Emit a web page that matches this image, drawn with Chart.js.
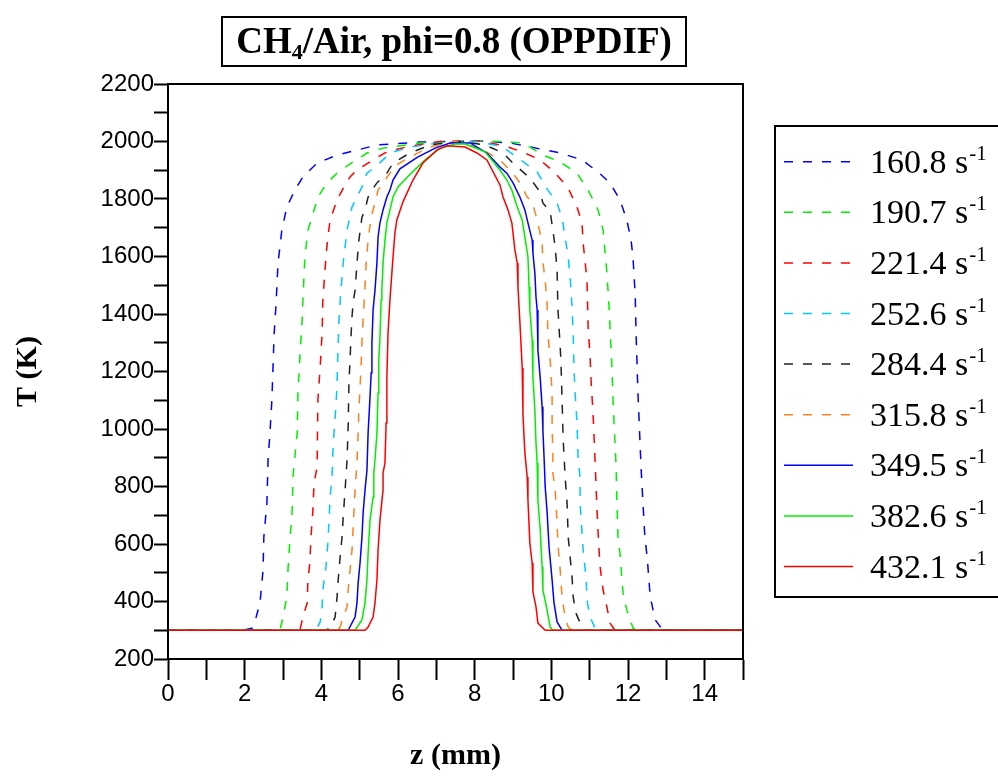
<!DOCTYPE html>
<html>
<head>
<meta charset="utf-8">
<script src="https://cdn.jsdelivr.net/npm/chart.js@4.4.1/dist/chart.umd.min.js"></script>
<style>
  html, body { margin: 0; padding: 0; background: #fff; }
  canvas { display: block; }
</style>
</head>
<body>
<canvas id="chart" width="998" height="776"></canvas>
<script>
/* Temperature profiles, CH4/Air counterflow flames — [z (mm), T (K)] */

const STRAIN_LABELS = ['160.8', '190.7', '221.4', '252.6', '284.4', '315.8', '349.5', '382.6', '432.1'];

const T_160 = [[0,300],[1.96,300],[2.19,307],[2.30,346],[2.40,395],[2.48,510],[2.50,624],[2.58,743],[2.61,892],[2.66,986],[2.71,1101],[2.77,1334],[2.82,1438],[2.87,1577],[2.97,1692],[3.10,1772],[3.31,1831],[3.52,1877],[3.89,1925],[4.41,1953],[4.93,1970],[5.45,1988],[6.57,1998],[8.14,2002],[8.92,1995],[10.23,1960],[10.80,1936],[11.22,1894],[11.53,1856],[11.79,1797],[11.97,1727],[12.08,1657],[12.13,1598],[12.19,1459],[12.21,1334],[12.26,1125],[12.34,868],[12.39,743],[12.44,624],[12.50,555],[12.58,416],[12.71,336],[12.89,304],[13.02,300],[15,300]];

const T_190 = [[0,300],[2.92,300],[3.00,346],[3.10,416],[3.13,510],[3.18,614],[3.24,718],[3.26,833],[3.37,986],[3.39,1125],[3.44,1250],[3.50,1379],[3.52,1449],[3.57,1598],[3.65,1692],[3.76,1737],[3.91,1807],[4.15,1856],[4.44,1894],[4.83,1929],[5.19,1960],[5.61,1977],[6.57,1995],[7.88,2001],[8.66,2000],[9.26,1995],[9.78,1953],[10.23,1929],[10.67,1890],[10.96,1831],[11.22,1762],[11.35,1692],[11.45,1543],[11.51,1414],[11.58,1216],[11.61,1101],[11.69,868],[11.71,743],[11.74,624],[11.79,569],[11.87,430],[11.97,370],[12.13,308],[12.21,300],[15,300]];

const T_221 = [[0,300],[3.44,300],[3.52,346],[3.63,395],[3.65,475],[3.70,534],[3.73,624],[3.78,718],[3.81,812],[3.89,868],[3.91,1101],[3.97,1216],[4.02,1334],[4.04,1449],[4.12,1598],[4.17,1668],[4.23,1727],[4.41,1797],[4.59,1842],[4.75,1877],[4.93,1901],[5.35,1936],[5.71,1964],[6.31,1984],[7.10,2000],[8.14,2002],[8.79,1984],[9.24,1964],[9.71,1936],[10.10,1890],[10.44,1838],[10.67,1772],[10.80,1717],[10.83,1647],[10.93,1518],[10.96,1355],[11.01,1254],[11.04,1160],[11.09,1049],[11.14,892],[11.19,725],[11.22,638],[11.27,523],[11.35,440],[11.45,381],[11.53,325],[11.66,300],[15,300]];

const T_252 = [[0,300],[3.86,300],[3.97,329],[4.02,381],[4.04,440],[4.12,520],[4.17,603],[4.23,763],[4.28,833],[4.30,917],[4.33,986],[4.38,1077],[4.41,1160],[4.44,1299],[4.46,1379],[4.51,1483],[4.57,1577],[4.67,1692],[4.80,1772],[4.93,1807],[5.06,1842],[5.19,1890],[5.40,1911],[5.61,1936],[5.79,1960],[6.31,1981],[7.10,1995],[8.01,2000],[8.53,1988],[8.84,1971],[9.63,1894],[9.91,1831],[10.15,1786],[10.28,1734],[10.36,1668],[10.44,1598],[10.49,1529],[10.54,1424],[10.57,1334],[10.59,1216],[10.62,1125],[10.67,1021],[10.70,892],[10.75,833],[10.75,743],[10.83,579],[10.91,475],[10.93,405],[11.01,346],[11.14,308],[11.22,300],[15,300]];

const T_284 = [[0,300],[4.12,300],[4.23,308],[4.36,346],[4.41,416],[4.44,475],[4.49,555],[4.54,624],[4.57,694],[4.62,788],[4.67,892],[4.70,1007],[4.72,1160],[4.75,1240],[4.77,1310],[4.80,1390],[4.83,1438],[4.88,1483],[4.93,1577],[4.98,1657],[5.06,1737],[5.14,1762],[5.22,1807],[5.32,1831],[5.45,1856],[5.71,1890],[5.87,1925],[6.31,1960],[6.84,1988],[7.62,2000],[8.27,1988],[8.74,1960],[9.00,1925],[9.44,1873],[9.71,1824],[9.78,1786],[9.97,1755],[10.04,1692],[10.10,1633],[10.15,1553],[10.17,1424],[10.20,1355],[10.25,1240],[10.28,1101],[10.31,962],[10.36,833],[10.41,743],[10.44,624],[10.49,555],[10.54,485],[10.57,416],[10.64,360],[10.80,311],[10.91,300],[15,300]];

const T_315 = [[0,300],[4.43,300],[4.49,311],[4.57,346],[4.67,381],[4.70,440],[4.75,510],[4.80,579],[4.83,659],[4.88,788],[4.93,882],[4.96,986],[4.98,1066],[5.01,1146],[5.04,1230],[5.06,1310],[5.09,1379],[5.11,1424],[5.17,1577],[5.22,1657],[5.30,1737],[5.40,1786],[5.48,1831],[5.61,1856],[5.79,1890],[5.87,1911],[6.31,1946],[6.84,1981],[7.49,2000],[8.14,1977],[8.66,1936],[8.84,1911],[9.00,1890],[9.18,1856],[9.37,1807],[9.50,1790],[9.63,1727],[9.76,1650],[9.78,1581],[9.84,1518],[9.89,1431],[9.91,1334],[9.97,1240],[10.02,1125],[10.02,1007],[10.04,917],[10.04,847],[10.10,788],[10.15,673],[10.17,603],[10.23,510],[10.28,416],[10.36,346],[10.44,311],[10.54,300],[15,300]];

const T_349 = [[0,300],[4.70,300],[4.88,346],[4.93,395],[4.96,464],[5.01,534],[5.06,624],[5.09,708],[5.14,788],[5.19,857],[5.22,986],[5.27,1111],[5.30,1195],[5.32,1299],[5.35,1414],[5.40,1483],[5.45,1577],[5.48,1668],[5.53,1717],[5.61,1762],[5.71,1807],[5.79,1831],[5.87,1866],[6.05,1905],[6.50,1945],[6.97,1977],[7.36,1995],[7.88,1995],[8.32,1960],[8.66,1911],[8.84,1890],[9.00,1856],[9.18,1807],[9.31,1762],[9.39,1717],[9.50,1657],[9.52,1612],[9.57,1543],[9.60,1459],[9.63,1414],[9.65,1275],[9.71,1177],[9.76,1077],[9.78,997],[9.81,903],[9.84,798],[9.89,711],[9.94,590],[10.02,475],[10.07,395],[10.15,329],[10.28,300],[15,300]];

const T_382 = [[0,300],[4.88,300],[5.06,336],[5.14,395],[5.19,475],[5.22,569],[5.27,683],[5.35,763],[5.37,847],[5.40,892],[5.45,986],[5.48,1125],[5.50,1240],[5.53,1320],[5.56,1449],[5.58,1483],[5.61,1577],[5.66,1657],[5.71,1717],[5.79,1762],[5.87,1807],[6.00,1842],[6.31,1885],[6.71,1936],[7.10,1977],[7.49,1991],[7.75,1991],[8.27,1964],[8.66,1901],[8.84,1866],[8.97,1831],[9.11,1772],[9.24,1727],[9.31,1668],[9.39,1598],[9.42,1494],[9.44,1414],[9.50,1310],[9.52,1181],[9.57,1066],[9.60,951],[9.63,882],[9.65,753],[9.71,649],[9.76,520],[9.78,440],[9.89,370],[9.97,311],[10.04,300],[15,300]];

const T_432 = [[0,300],[5.14,300],[5.22,311],[5.35,346],[5.40,395],[5.45,475],[5.48,579],[5.53,683],[5.61,788],[5.61,847],[5.66,882],[5.69,1021],[5.71,1181],[5.74,1334],[5.79,1449],[5.87,1598],[5.92,1682],[5.97,1727],[6.13,1790],[6.39,1866],[6.65,1925],[7.02,1971],[7.28,1985],[7.75,1981],[8.06,1960],[8.32,1936],[8.66,1849],[8.74,1807],[8.87,1762],[8.97,1717],[9.00,1682],[9.05,1623],[9.11,1577],[9.13,1494],[9.18,1372],[9.24,1212],[9.26,1049],[9.31,917],[9.37,833],[9.39,753],[9.44,603],[9.50,534],[9.52,433],[9.60,381],[9.65,325],[9.84,300],[15,300]];

const SERIES = [T_160, T_190, T_221, T_252, T_284, T_315, T_349, T_382, T_432];

const X_TICKS_MAJOR = 2;
const Y_TICKS_MAJOR = 200;

const COLORS = ['#0000ff', '#00ee00', '#ff0000', '#00c8ff', '#222222', '#ff8020', '#0000ff', '#00ee00', '#ff0000'];
const DASHED = [true, true, true, true, true, true, false, false, false];

const SERIF = '"Liberation Serif", "Times New Roman", serif';
const SANS = '"Liberation Sans", Arial, sans-serif';

const frameBoxes = {
  id: 'frameBoxes',
  afterDraw(chart) {
    const { ctx, chartArea: a } = chart;
    ctx.save();
    ctx.strokeStyle = '#000';
    ctx.lineWidth = 2;
    ctx.strokeRect(a.left, a.top, a.right - a.left, a.bottom - a.top);

    // title box
    ctx.strokeRect(222, 17, 464, 49);
    ctx.fillStyle = '#000';
    ctx.textBaseline = 'alphabetic';
    const big = 'bold 37px ' + SERIF, sub = 'bold 22px ' + SERIF;
    ctx.font = big;
    const p1 = 'CH', p3 = '/Air, phi=0.8 (OPPDIF)';
    const w1 = ctx.measureText(p1).width, w3 = ctx.measureText(p3).width;
    ctx.font = sub;
    const w2 = ctx.measureText('4').width;
    let x = 454 - (w1 + w2 + w3) / 2;
    ctx.font = big; ctx.fillText(p1, x, 53); x += w1;
    ctx.font = sub; ctx.fillText('4', x, 59); x += w2;
    ctx.font = big; ctx.fillText(p3, x, 53);

    // legend box
    ctx.strokeRect(775, 126, 240, 471);
    STRAIN_LABELS.forEach((lab, i) => {
      const y = 161.7 + i * 50.6;
      ctx.strokeStyle = COLORS[i];
      ctx.lineWidth = 1.5;
      ctx.setLineDash(DASHED[i] ? [9, 10] : []);
      ctx.beginPath(); ctx.moveTo(784, y); ctx.lineTo(853, y); ctx.stroke();
      ctx.setLineDash([]);
      ctx.fillStyle = '#000';
      ctx.font = '34px ' + SERIF;
      const t = lab + ' s';
      ctx.fillText(t, 870, y + 11);
      const tw = ctx.measureText(t).width;
      ctx.font = '21px ' + SERIF;
      ctx.fillText('-1', 870 + tw + 1, y - 2);
    });
    ctx.restore();
  }
};

new Chart(document.getElementById('chart'), {
  type: 'line',
  data: {
    datasets: SERIES.map((pts, i) => ({
      label: STRAIN_LABELS[i] + ' s-1',
      data: pts.map(p => ({ x: p[0], y: p[1] })),
      borderColor: COLORS[i],
      borderWidth: 1.5,
      borderDash: DASHED[i] ? [9, 10] : [],
      pointRadius: 0,
      tension: 0,
      fill: false,
      order: SERIES.length - 1 - i,
    })),
  },
  options: {
    responsive: false,
    animation: false,
    events: [],
    layout: { padding: { left: 0, right: 255, top: 84, bottom: 0 } },
    plugins: { legend: { display: false }, tooltip: { enabled: false } },
    scales: {
      x: {
        type: 'linear',
        min: 0, max: 15,
        afterFit: s => { s.height = 117; },
        border: { display: true, color: '#000', width: 2 },
        grid: { drawOnChartArea: false, drawTicks: true, tickLength: 21, tickWidth: 2, tickColor: '#000' },
        ticks: {
          stepSize: 1, autoSkip: false, maxRotation: 0, padding: 0,
          color: '#000', font: { size: 24, family: SANS },
          callback: v => (v % X_TICKS_MAJOR === 0 && v < 15 ? String(v) : ''),
        },
        title: { display: true, text: 'z (mm)', color: '#000', font: { size: 30, weight: 'bold', family: SERIF }, padding: { top: 0, bottom: 2 } },
      },
      y: {
        min: 200, max: 2200,
        afterFit: s => { s.width = 168; },
        border: { display: true, color: '#000', width: 2 },
        grid: { drawOnChartArea: false, drawTicks: true, tickLength: 14, tickWidth: 2, tickColor: '#000' },
        ticks: {
          stepSize: 100, autoSkip: false, padding: 0,
          color: '#000', font: { size: 24, family: SANS },
          callback: v => (v % Y_TICKS_MAJOR === 0 ? String(v) : ''),
        },
        title: { display: true, text: 'T (K)', color: '#000', font: { size: 30, weight: 'bold', family: SERIF }, padding: { top: 10, bottom: 0 } },
      },
    },
  },
  plugins: [frameBoxes],
});
</script>
</body>
</html>
